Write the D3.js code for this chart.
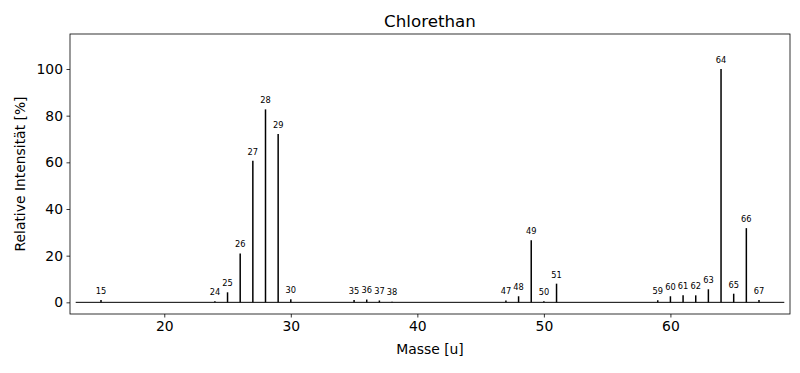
<!DOCTYPE html>
<html>
<head>
<meta charset="utf-8">
<script src="https://cdn.jsdelivr.net/npm/d3@7"></script>
<style>
  body { margin: 0; background: #fff; }
  svg { font-family: "DejaVu Sans", sans-serif; }
</style>
</head>
<body>
<div id="chart"></div>
<script>
// Massenspektrum Chlorethan
const masses = [15, 24, 25, 26, 27, 28, 29, 30, 35, 36, 37, 38, 47, 48, 49, 50, 51, 59, 60, 61, 62, 63, 64, 65, 66, 67];
const intensities = [1.0, 0.5, 4.3, 20.9, 60.7, 82.7, 72.1, 1.3, 1.0, 1.2, 0.8, 0.3, 0.8, 2.6, 26.6, 0.5, 8.0, 0.9, 2.6, 3.0, 3.0, 5.6, 100, 3.7, 31.8, 1.0];
const xTicks = [20, 30, 40, 50, 60];
const yTicks = [0, 20, 40, 60, 80, 100];

const W = 800, H = 373;
const margin = { top: 34, right: 10, bottom: 59, left: 70 };
const width = W - margin.left - margin.right,
      height = H - margin.top - margin.bottom;

const svg = d3.select('#chart').append('svg')
  .attr('width', W).attr('height', H);

const g = svg.append('g')
  .attr('transform', `translate(${margin.left},${margin.top})`);

const x = d3.scaleLinear()
  .domain([d3.min(masses) - 2.45, d3.max(masses) + 2.45])
  .range([0, width]);

const y = d3.scaleLinear()
  .domain([-5, 115])
  .range([height, 0]);

const data = masses.map((m, i) => ({ m: m, v: intensities[i] }));

// Grundlinie
g.append('line')
  .attr('x1', x(d3.min(masses) - 2)).attr('x2', x(d3.max(masses) + 2))
  .attr('y1', y(0)).attr('y2', y(0))
  .attr('stroke', 'black').attr('stroke-width', 1);

// Peaks
g.selectAll('.peak')
  .data(data)
  .enter()
  .append('line')
  .attr('class', 'peak')
  .attr('x1', d => x(d.m)).attr('x2', d => x(d.m))
  .attr('y1', y(0)).attr('y2', d => y(d.v))
  .attr('stroke', 'black')
  .attr('stroke-width', 1.5);

// Beschriftung der Peaks
g.selectAll('.lbl')
  .data(data)
  .enter()
  .append('text')
  .attr('class', 'lbl')
  .attr('x', d => x(d.m))
  .attr('y', d => y(d.v + 2) - 1.5)
  .attr('text-anchor', 'middle')
  .attr('font-family', '"DejaVu Sans Condensed", "DejaVu Sans", sans-serif')
  .attr('font-size', '9.2px')
  .attr('fill', 'black')
  .text(d => d.m);

// Achsen
const xAxis = d3.axisBottom(x).tickValues(xTicks).tickSize(3.5).tickPadding(3.5);
const yAxis = d3.axisLeft(y).tickValues(yTicks).tickSize(3.5).tickPadding(3.5);

const gx = g.append('g')
  .attr('transform', `translate(0,${height})`)
  .call(xAxis);
const gy = g.append('g').call(yAxis);

[gx, gy].forEach(a => {
  a.select('.domain').remove();
  a.selectAll('line').attr('stroke-width', 0.8);
  a.selectAll('text').attr('font-size', '13.9px').attr('fill', 'black')
    .attr('font-family', '"DejaVu Sans", sans-serif');
});

// Rahmen
g.append('rect')
  .attr('width', width).attr('height', height)
  .attr('fill', 'none').attr('stroke', 'black').attr('stroke-width', 0.8);

// Titel und Achsentitel
svg.append('text')
  .attr('x', margin.left + width / 2).attr('y', 27)
  .attr('text-anchor', 'middle')
  .attr('font-size', '16.7px')
  .text('Chlorethan');

svg.append('text')
  .attr('x', margin.left + width / 2).attr('y', 354)
  .attr('text-anchor', 'middle')
  .attr('font-size', '13.9px')
  .text('Masse [u]');

svg.append('text')
  .attr('transform', `translate(25,${margin.top + height / 2}) rotate(-90)`)
  .attr('text-anchor', 'middle')
  .attr('font-size', '13.9px')
  .text('Relative Intensität [%]');
</script>
</body>
</html>
